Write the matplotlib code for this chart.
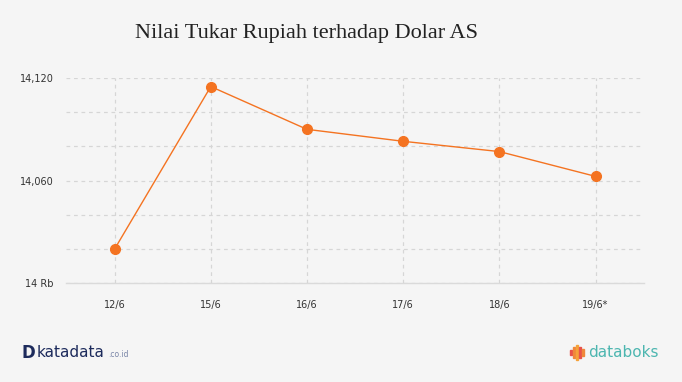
import matplotlib.pyplot as plt
import numpy as np

# data
tanggal = ['12/6', '15/6', '16/6', '17/6', '18/6', '19/6*']
kurs = [14020, 14115, 14090, 14083, 14077, 14062.5]
y_ticks = [14000, 14020, 14040, 14060, 14080, 14100, 14120]
y_labels = ['14 Rb', '', '', '14,060', '', '', '14,120']

bg = '#f5f5f5'
orange = '#f47321'

fig = plt.figure(figsize=(6.82, 3.82), dpi=100, facecolor=bg)
ax = fig.add_axes([0.0975, 0.2584, 0.9437 - 0.0975, 0.7958 - 0.2584])
ax.set_facecolor(bg)

x = np.arange(len(tanggal))
ax.plot(x, kurs, color=orange, linewidth=1.0, marker='o', markersize=7,
        markerfacecolor=orange, markeredgecolor=orange, zorder=3)

ax.set_xlim(-0.5, len(tanggal) - 0.5)
ax.set_ylim(14000, 14120)
ax.set_xticks(x)
ax.set_xticklabels(tanggal)
ax.set_yticks(y_ticks)
ax.set_yticklabels(y_labels)

ax.grid(True, color='#d6d6d6', linestyle=(0, (3, 3)), linewidth=0.9)
for s in ['top', 'right', 'left']:
    ax.spines[s].set_visible(False)
ax.spines['bottom'].set_color('#dadada')
ax.spines['bottom'].set_linewidth(1.0)
ax.tick_params(axis='both', length=0, labelsize=7, labelcolor='#333333')
ax.tick_params(axis='y', pad=9)
ax.tick_params(axis='x', pad=12)

fig.text(0.198, 0.913, 'Nilai Tukar Rupiah terhadap Dolar AS', fontsize=16,
         family='Liberation Serif', color='#222222', va='center', ha='left')

# logos (text approximations)
fig.text(0.032, 0.077, 'D', fontsize=12, fontweight='bold', color='#1d2b5c', va='center')
fig.text(0.053, 0.077, 'katadata', fontsize=11, color='#1d2b5c', va='center')
fig.text(0.158, 0.072, '.co.id', fontsize=5.5, color='#7a86a8', va='center')
fig.text(0.862, 0.077, 'databoks', fontsize=11, color='#4db6b0', va='center')
bar_h = [0.012, 0.028, 0.04, 0.03, 0.018]
bar_c = ['#e8524a', '#f0873a', '#f5a23a', '#e8524a', '#f0873a']
for i, (h, c) in enumerate(zip(bar_h, bar_c)):
    fig.patches.append(plt.Rectangle((0.836 + i * 0.0045, 0.077 - h / 2), 0.0025, h,
                                     transform=fig.transFigure, color=c))

fig.savefig('out.png', dpi=100, facecolor=bg)
